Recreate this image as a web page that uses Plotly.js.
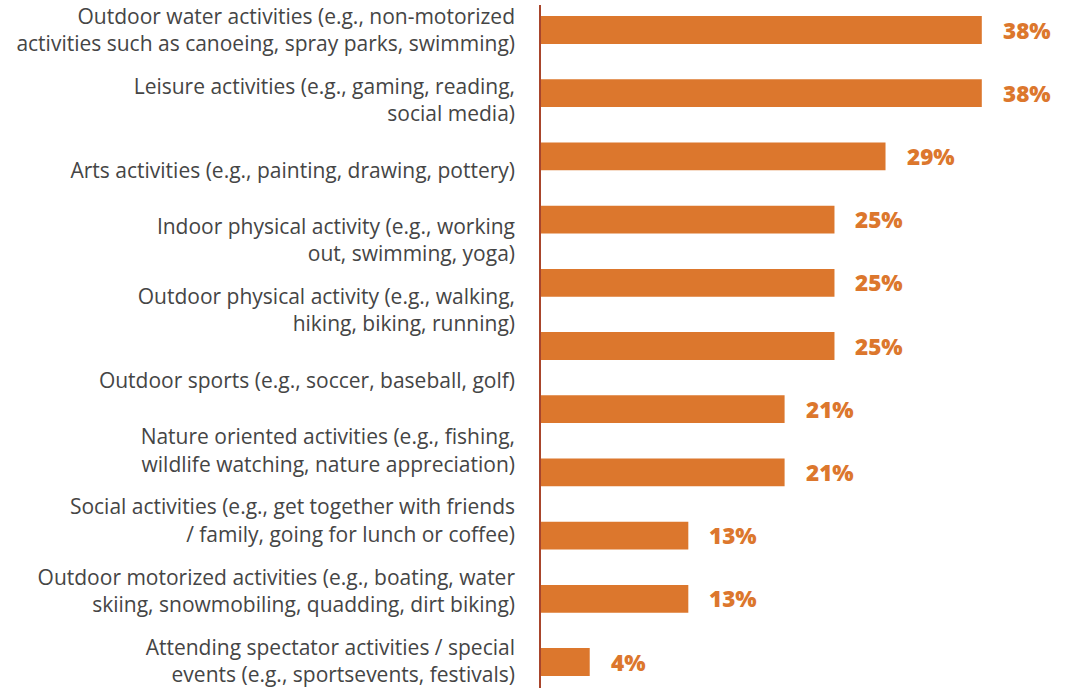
<!DOCTYPE html>
<html>
<head>
<meta charset="utf-8">
<script src="https://cdn.plot.ly/plotly-3.0.1.min.js"></script>
<style>
html,body{margin:0;padding:0;background:#fff;}
#chart{width:1070px;height:688px;}
</style>
</head>
<body>
<div id="chart"></div>
<script>
// Category labels (10 labels, as shown in the source)
const labels = [
  "Outdoor water activities (e.g., non-motorized<br>activities such as canoeing, spray parks, swimming)",
  "Leisure activities (e.g., gaming, reading,<br>social media)",
  "Arts activities (e.g., painting, drawing, pottery)",
  "Indoor physical activity (e.g., working<br>out, swimming, yoga)",
  "Outdoor physical activity (e.g., walking,<br>hiking, biking, running)",
  "Outdoor sports (e.g., soccer, baseball, golf)",
  "Nature oriented activities (e.g., fishing,<br>wildlife watching, nature appreciation)",
  "Social activities (e.g., get together with friends<br>/ family, going for lunch or coffee)",
  "Outdoor motorized activities (e.g., boating, water<br>skiing, snowmobiling, quadding, dirt biking)",
  "Attending spectator activities / special<br>events (e.g., sportsevents, festivals)"
];
// Bars (11 bars, as shown in the source)
const barIds = ["b1","b2","b3","b4","b5","b6","b7","b8","b9","b10","b11"];
const values = [38.0, 38.0, 29.7, 25.3, 25.3, 25.3, 21.0, 21.0, 12.7, 12.7, 4.2];
const valueText = ["38%","38%","29%","25%","25%","25%","21%","21%","13%","13%","4%"];

const orange = "#DC772D";
const textGrey = "#454545";

const traces = [
  {
    type: "bar",
    orientation: "h",
    x: values,
    y: barIds,
    width: 0.44,
    marker: {color: orange},
    hoverinfo: "skip",
    xaxis: "x",
    yaxis: "y"
  },
  {
    type: "scatter",
    mode: "markers",
    x: labels.map(() => 0),
    y: labels,
    marker: {opacity: 0},
    hoverinfo: "skip",
    showlegend: false,
    xaxis: "x",
    yaxis: "y2"
  }
];

const annotations = values.map((v, i) => ({
  x: v, y: barIds[i], xref: "x", yref: "y",
  text: valueText[i], showarrow: false,
  xanchor: "left", yanchor: "middle", xshift: 19,
  font: {family: "'Open Sans', sans-serif", size: 22.5, color: orange, weight: 800}
}));

const layout = {
  width: 1070, height: 688,
  margin: {l: 541, r: 7, t: 5, b: 0, pad: 0},
  paper_bgcolor: "#fff", plot_bgcolor: "#fff",
  showlegend: false,
  bargap: 0.5,
  xaxis: {range: [0, 45.0], visible: false, fixedrange: true},
  yaxis: {
    type: "category",
    categoryarray: barIds, categoryorder: "array",
    range: [10.411, -0.3956],
    showticklabels: false, ticks: "",
    showgrid: false, zeroline: false,
    showline: true, linecolor: "#A8452C", linewidth: 2,
    fixedrange: true
  },
  yaxis2: {
    type: "category",
    overlaying: "y", side: "left",
    categoryarray: labels, categoryorder: "array",
    range: [9.386, -0.3566],
    showgrid: false, zeroline: false, showline: false,
    ticks: "", ticklabelstandoff: 25,
    tickfont: {family: "'Open Sans', sans-serif", size: 21, color: textGrey},
    fixedrange: true
  },
  annotations: annotations
};

Plotly.newPlot("chart", traces, layout, {staticPlot: true, displayModeBar: false});
</script>
</body>
</html>
